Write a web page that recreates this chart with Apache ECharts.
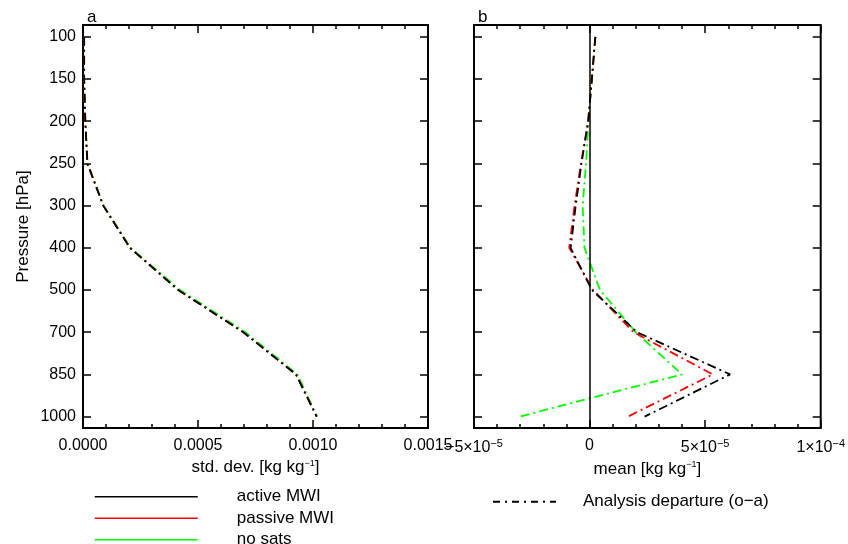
<!DOCTYPE html>
<html>
<head>
<meta charset="utf-8">
<script src="https://cdn.jsdelivr.net/npm/echarts@6/dist/echarts.min.js"></script>
<style>
  html, body { margin: 0; padding: 0; background: #fff; }
  #chart { width: 848px; height: 544px; }
</style>
</head>
<body>
<div id="chart"></div>
<script>
// pressure levels (top to bottom)
var levels = ['100', '150', '200', '250', '300', '400', '500', '700', '850', '1000'];
var levelIdx = [0, 1, 2, 3, 4, 5, 6, 7, 8, 9];

// panel a: std. dev. of analysis departure [kg/kg]
var stdActive  = [0.000005, 0.000005, 0.000010, 0.000019, 0.000088, 0.000204, 0.000414, 0.000697, 0.000926, 0.001016];
var stdPassive = [0.000005, 0.000005, 0.000010, 0.000019, 0.000088, 0.000204, 0.000414, 0.000697, 0.000926, 0.001016];
var stdNoSats  = [0.000005, 0.000005, 0.000010, 0.000020, 0.000090, 0.000207, 0.000422, 0.000706, 0.000932, 0.001018];

// panel b: mean of analysis departure [kg/kg]
var meanActive  = [0.25e-5, 0.10e-5, -0.06e-5, -0.35e-5, -0.60e-5, -0.82e-5, 0.10e-5, 2.05e-5, 6.08e-5, 2.38e-5];
var meanPassive = [0.25e-5, 0.10e-5, -0.06e-5, -0.37e-5, -0.65e-5, -0.88e-5, 0.15e-5, 1.90e-5, 5.33e-5, 1.66e-5];
var meanNoSats  = [0.25e-5, 0.10e-5, -0.05e-5, -0.15e-5, -0.30e-5, -0.22e-5, 0.45e-5, 2.00e-5, 4.00e-5, -3.03e-5];

var seriesNames = ['active MWI', 'passive MWI', 'no sats'];
var seriesColors = ['#000000', '#ff0000', '#00ff00'];
var departureName = 'Analysis departure (o\u2212a)';

// tick labels panel b (rich text superscripts)
var meanTicks = [-5e-5, 0, 5e-5, 1e-4];
var meanTickLabels = ['\u22125\u00d710{s|\u22125}', '0', '5\u00d710{s|\u22125}', '1\u00d710{s|\u22124}'];

var FONT = 'Liberation Sans';
var dashDot = [9, 4, 2, 4];

var chart = echarts.init(document.getElementById('chart'), null, { renderer: 'canvas' });

function pairs(vals) {
    return vals.map(function (v, i) { return [v, levelIdx[i]]; });
}

function yAxes(gridIndex, withLabels, side) {
    return {
        type: 'value',
        gridIndex: gridIndex,
        position: side,
        inverse: true,
        min: -0.28,
        max: 9.27,
        splitLine: { show: false },
        axisLine: { show: false, onZero: false },
        axisTick: { show: true, inside: true, length: 8, customValues: levelIdx, lineStyle: { color: '#000', width: 1.5 } },
        axisLabel: {
            show: withLabels, customValues: levelIdx, margin: 7,
            color: '#000', fontSize: 16, fontFamily: FONT,
            formatter: function (v) { return levels[Math.round(v)]; }
        },
        name: withLabels && gridIndex === 0 ? 'Pressure [hPa]' : '',
        nameLocation: 'middle',
        nameGap: 51,
        nameTextStyle: { color: '#000', fontSize: 17, fontFamily: FONT }
    };
}

function xAxis(gridIndex, side, min, max, interval, withLabels, name, formatter) {
    return {
        type: 'value',
        gridIndex: gridIndex,
        position: side,
        min: min,
        max: max,
        interval: interval,
        splitLine: { show: false },
        axisLine: { show: false, onZero: false },
        axisTick: { show: true, inside: true, length: 8, lineStyle: { color: '#000', width: 1.5 } },
        minorTick: { show: true, splitNumber: 5, length: 4, lineStyle: { color: '#000', width: 1.5 } },
        axisLabel: {
            show: withLabels, margin: 10, color: '#000', fontSize: 16, fontFamily: FONT,
            showMinLabel: true, showMaxLabel: true, hideOverlap: false,
            formatter: formatter,
            rich: { s: { fontSize: 11, fontFamily: FONT, color: '#000', padding: [0, 0, 8, 0] } }
        },
        name: withLabels ? name : '',
        nameLocation: 'middle',
        nameGap: 28,
        nameTextStyle: {
            color: '#000', fontSize: 17, fontFamily: FONT,
            rich: { s: { fontSize: 9, fontFamily: FONT, color: '#000', padding: [0, 0, 8, 0] } }
        }
    };
}

function lineSeries(name, color, data, xi, yi, z) {
    return {
        name: name,
        type: 'line',
        xAxisIndex: xi,
        yAxisIndex: yi,
        data: pairs(data),
        symbol: 'none',
        z: z,
        lineStyle: { color: color, width: 1.8, type: dashDot },
        itemStyle: { color: color },
        silent: true,
        animation: false
    };
}

var option = {
    animation: false,
    title: [
        { text: 'a', left: 82, top: 4, textStyle: { fontSize: 17, fontWeight: 'normal', fontFamily: FONT, color: '#000' } },
        { text: 'b', left: 473, top: 4, textStyle: { fontSize: 17, fontWeight: 'normal', fontFamily: FONT, color: '#000' } }
    ],
    grid: [
        { left: 83, right: 420, top: 25, bottom: 116, show: true, borderColor: '#000', borderWidth: 2, backgroundColor: 'transparent' },
        { left: 474, right: 27, top: 25, bottom: 116, show: true, borderColor: '#000', borderWidth: 2, backgroundColor: 'transparent' }
    ],
    xAxis: [
        xAxis(0, 'bottom', 0, 0.0015, 0.0005, true, 'std. dev. [kg kg{s|\u22121}]',
            function (v) { return v.toFixed(4); }),
        xAxis(0, 'top', 0, 0.0015, 0.0005, false, '', null),
        xAxis(1, 'bottom', -5e-5, 1e-4, 5e-5, true, 'mean [kg kg{s|\u22121}]',
            function (v) {
                for (var i = 0; i < meanTicks.length; i++) {
                    if (Math.abs(v - meanTicks[i]) < 1e-9) return meanTickLabels[i];
                }
                return '';
            }),
        xAxis(1, 'top', -5e-5, 1e-4, 5e-5, false, '', null)
    ],
    yAxis: [
        yAxes(0, true, 'left'),
        yAxes(0, false, 'right'),
        yAxes(1, false, 'left'),
        yAxes(1, false, 'right')
    ],
    legend: [
        {
            orient: 'vertical',
            left: 94,
            top: 486,
            height: 70,
            padding: 0,
            itemWidth: 103,
            itemHeight: 12,
            itemGap: 0,
            selectedMode: false,
            textStyle: { color: '#000', fontSize: 17, fontFamily: FONT, lineHeight: 21.5, padding: [0, 0, 0, 34] },
            data: seriesNames.map(function (n, i) {
                return {
                    name: n,
                    lineStyle: { type: 'solid', width: 1.5, color: seriesColors[i] },
                    itemStyle: { opacity: 0 }
                };
            })
        },
        {
            orient: 'vertical',
            left: 492,
            top: 491,
            padding: 0,
            itemWidth: 63,
            itemHeight: 12,
            selectedMode: false,
            textStyle: { color: '#000', fontSize: 17, fontFamily: FONT, lineHeight: 21.5, padding: [0, 0, 0, 22] },
            data: [{ name: departureName, itemStyle: { opacity: 0 } }]
        }
    ],
    series: [
        lineSeries(seriesNames[2], seriesColors[2], stdNoSats, 0, 0, 2),
        lineSeries(seriesNames[1], seriesColors[1], stdPassive, 0, 0, 3),
        lineSeries(seriesNames[0], seriesColors[0], stdActive, 0, 0, 4),
        lineSeries(seriesNames[2], seriesColors[2], meanNoSats, 2, 2, 2),
        lineSeries(seriesNames[1], seriesColors[1], meanPassive, 2, 2, 3),
        lineSeries(seriesNames[0], seriesColors[0], meanActive, 2, 2, 4),
        {
            name: departureName,
            type: 'line',
            xAxisIndex: 2,
            yAxisIndex: 2,
            data: [],
            symbol: 'none',
            lineStyle: { color: '#000', width: 1.5, type: [7, 5, 2, 5] },
            itemStyle: { color: '#000' },
            markLine: {
                silent: true,
                symbol: ['none', 'none'],
                label: { show: false },
                lineStyle: { color: '#000', width: 1.5, type: 'solid' },
                data: [{ xAxis: 0 }]
            }
        }
    ]
};

chart.setOption(option);
window.addEventListener('resize', chart.resize);
</script>
</body>
</html>
